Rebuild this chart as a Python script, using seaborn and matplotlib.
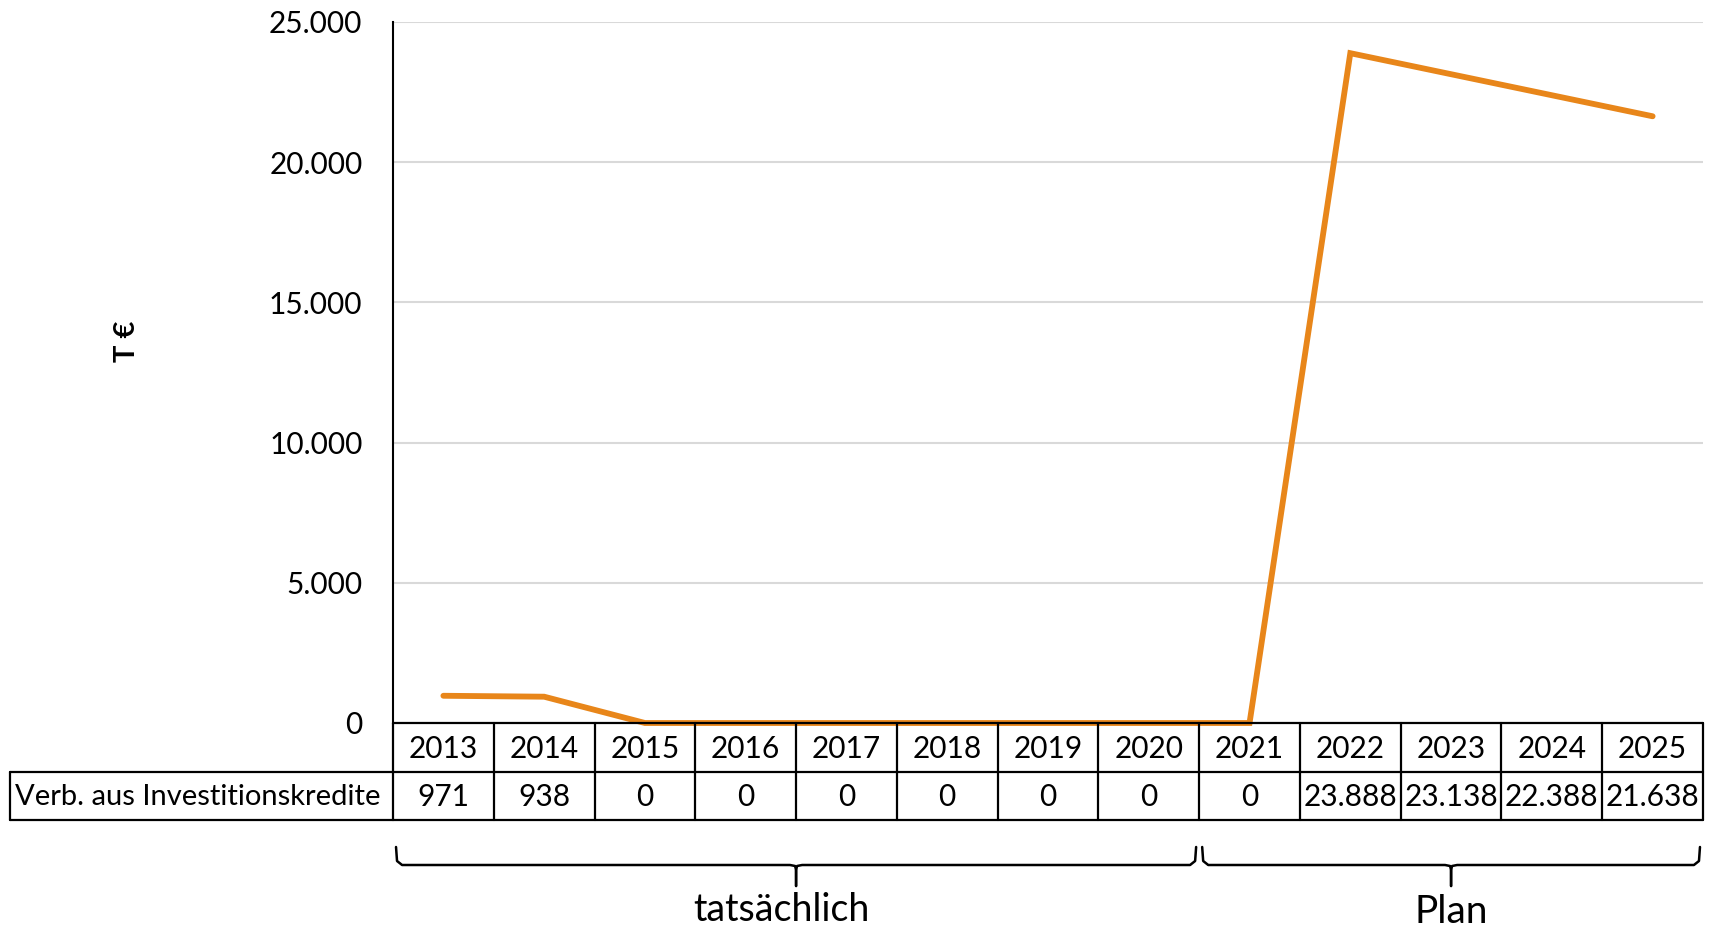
import matplotlib
matplotlib.use("Agg")
import matplotlib.pyplot as plt
import matplotlib.transforms as mtransforms
from matplotlib.lines import Line2D
from matplotlib.ticker import FuncFormatter, FixedLocator
import seaborn as sns
import pandas as pd

# ---- data ----
years = ["2013", "2014", "2015", "2016", "2017", "2018", "2019",
         "2020", "2021", "2022", "2023", "2024", "2025"]
values = [971, 938, 0, 0, 0, 0, 0, 0, 0, 23888, 23138, 22388, 21638]
series_name = "Verb. aus Investitionskredite"
y_ticks = [0, 5000, 10000, 15000, 20000, 25000]
y_label = "T €"
groups = [("tatsächlich", 0, 7), ("Plan", 8, 12)]

def de_fmt(v):
    return f"{int(round(v)):,}".replace(",", ".")

sns.set_theme(style="white")
plt.rcParams["font.family"] = ["Lato", "DejaVu Sans"]

W, H = 1713, 931
fig = plt.figure(figsize=(W / 100, H / 100), dpi=100)

def fy(p):  # pixel y from top -> figure fraction
    return (H - p) / H

def fx(p):
    return p / W

ax_left, ax_right, ax_top, ax_bot = 393, 1703, 22, 723
ax = fig.add_axes([fx(ax_left), fy(ax_bot), fx(ax_right - ax_left), fy(ax_top) - fy(ax_bot)])

df = pd.DataFrame({"Jahr": years, "Wert": values})
sns.lineplot(data=df, x="Jahr", y="Wert", ax=ax, color="#E8861A",
             linewidth=4.2, sort=False, zorder=5)
for ln in ax.get_lines():
    ln.set_clip_on(False)
    ln.set_solid_capstyle("round")
    ln.set_solid_joinstyle("miter")

n = len(years)
ax.set_xlim(-0.5, n - 0.5)
ax.set_ylim(0, 25000)
ax.yaxis.set_major_locator(FixedLocator(y_ticks))
ax.yaxis.set_major_formatter(FuncFormatter(lambda v, p: de_fmt(v)))
ax.tick_params(axis="y", length=0, pad=22, labelsize=21.5, labelcolor="black")
ax.set_xticks([])
ax.set_xlabel("")
ax.set_ylabel("")
ax.grid(axis="y", color="#d9d9d9", linewidth=1.5)
ax.grid(axis="x", visible=False)
for s in ["top", "right", "bottom"]:
    ax.spines[s].set_visible(False)
ax.spines["left"].set_color("black")
ax.spines["left"].set_linewidth(1.5)

# y label
fig.text(fx(127), fy(341), y_label, rotation=90, ha="center", va="center",
         fontsize=21, fontweight="bold", color="black")

# ---- data table ----
blend = mtransforms.blended_transform_factory(ax.transData, fig.transFigure)
row_top, row_mid, row_bot = 723, 772, 820
lw_t = 1.6
for yy in (row_top, row_mid, row_bot):
    fig.add_artist(Line2D([-0.5, n - 0.5], [fy(yy), fy(yy)], transform=blend,
                          color="black", linewidth=lw_t, zorder=3))
for yy in (row_mid, row_bot):
    fig.add_artist(Line2D([fx(10), fx(ax_left)], [fy(yy), fy(yy)],
                          transform=fig.transFigure, color="black", linewidth=lw_t))
fig.add_artist(Line2D([fx(10), fx(10)], [fy(row_mid), fy(row_bot)],
                      transform=fig.transFigure, color="black", linewidth=lw_t))
for i in range(n + 1):
    fig.add_artist(Line2D([i - 0.5, i - 0.5], [fy(row_top), fy(row_bot)],
                          transform=blend, color="black", linewidth=lw_t))
for i, (yr, v) in enumerate(zip(years, values)):
    fig.text(i, fy((row_top + row_mid) / 2 + 1), yr, transform=blend, ha="center",
             va="center", fontsize=21.5, color="black")
    fig.text(i, fy((row_mid + row_bot) / 2 + 1), de_fmt(v), transform=blend,
             ha="center", va="center", fontsize=21.5, color="black")
fig.text(fx(15), fy((row_mid + row_bot) / 2 + 1), series_name, ha="left",
         va="center", fontsize=21, color="black")

# ---- braces ----
def brace(x0, x1, y_top=847, y_mid=865, y_tip=886):
    xm = (x0 + x1) / 2
    r = 0.06
    xs = [x0, x0 + 0.01, x0 + r, xm - r, xm - 0.01, xm, xm, xm, xm + 0.01, xm + r,
          x1 - r, x1 - 0.01, x1]
    ys = [y_top, y_mid - 4, y_mid, y_mid, y_mid + 1, y_mid + 5, y_tip, y_mid + 5,
          y_mid + 1, y_mid, y_mid, y_mid - 4, y_top]
    fig.add_artist(Line2D(xs[:7], [fy(v) for v in ys[:7]], transform=blend,
                          color="black", linewidth=1.8, solid_joinstyle="round"))
    fig.add_artist(Line2D(xs[6:], [fy(v) for v in ys[6:]], transform=blend,
                          color="black", linewidth=1.8, solid_joinstyle="round"))

label_pos = {"tatsächlich": (-0.15, 910, 27), "Plan": (0.0, 912, 28)}
for label, i0, i1 in groups:
    x0 = i0 - 0.5 + 0.03
    x1 = i1 + 0.5 - 0.03
    brace(x0, x1)
    dx, ty, fs = label_pos[label]
    fig.text((x0 + x1) / 2 + dx, fy(ty), label, transform=blend, ha="center",
             va="center", fontsize=fs, color="black")

fig.savefig("out.png", dpi=100, facecolor="white")
